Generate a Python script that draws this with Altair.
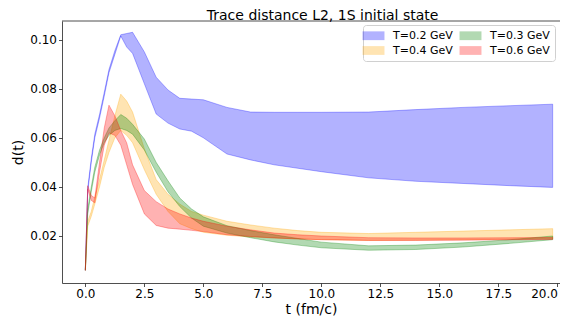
import altair as alt
import pandas as pd

t = [0, 0.1, 0.25, 0.4, 0.6, 0.8, 1.0, 1.25, 1.5, 1.75, 2.0, 2.5, 3.0, 3.5, 4.0,
     4.5, 5.0, 6.0, 7.0, 8.0, 9.0, 10.0, 12.0, 14.0, 16.0, 18.0, 19.8]

# T = 0.2 GeV
b_lo = [0.006, 0.038, 0.050, 0.060, 0.068, 0.077, 0.0865, 0.094, 0.1015, 0.097, 0.0944,
        0.082, 0.0697, 0.066, 0.0636, 0.0627, 0.0600, 0.0534, 0.0510, 0.0490, 0.0476,
        0.0462, 0.0437, 0.0423, 0.0414, 0.0405, 0.0398]
b_hi = [0.0065, 0.0395, 0.0515, 0.0615, 0.0695, 0.0785, 0.0878, 0.0955, 0.1020, 0.1025,
        0.1030, 0.0950, 0.0847, 0.0795, 0.0761, 0.0758, 0.0755, 0.0724, 0.0705, 0.0704,
        0.0704, 0.0704, 0.0705, 0.0715, 0.0724, 0.0731, 0.0737]
# T = 0.3 GeV
g_lo = [0.006, 0.029, 0.038, 0.046, 0.053, 0.058, 0.061, 0.063, 0.0638, 0.063, 0.0615,
        0.055, 0.046, 0.038, 0.032, 0.0273, 0.024, 0.0212, 0.0193, 0.0176, 0.0163,
        0.0152, 0.0142, 0.0145, 0.0155, 0.0170, 0.0185]
g_hi = [0.0065, 0.031, 0.040, 0.048, 0.055, 0.060, 0.064, 0.067, 0.0695, 0.068, 0.0655,
        0.0595, 0.050, 0.0425, 0.0355, 0.031, 0.0278, 0.0242, 0.0222, 0.0205, 0.0190,
        0.0175, 0.0160, 0.0163, 0.0172, 0.0185, 0.0200]
# T = 0.4 GeV
o_lo = [0.006, 0.024, 0.028, 0.033, 0.040, 0.048, 0.054, 0.060, 0.063, 0.061, 0.058,
        0.047, 0.037, 0.030, 0.025, 0.023, 0.0215, 0.0203, 0.0196, 0.0192, 0.0188,
        0.0185, 0.0182, 0.0183, 0.0185, 0.0187, 0.0189]
o_hi = [0.0065, 0.026, 0.030, 0.036, 0.043, 0.051, 0.059, 0.069, 0.0778, 0.075, 0.0705,
        0.0555, 0.043, 0.037, 0.033, 0.030, 0.0285, 0.026, 0.0245, 0.0232, 0.0222,
        0.0215, 0.0210, 0.0215, 0.0220, 0.0225, 0.0230]
# T = 0.6 GeV
r_lo = [0.006, 0.039, 0.0345, 0.0335, 0.046, 0.057, 0.062, 0.061, 0.057, 0.049, 0.041,
        0.029, 0.0243, 0.0232, 0.0228, 0.0223, 0.0218, 0.0205, 0.0198, 0.0192, 0.0188,
        0.0185, 0.0182, 0.0182, 0.0183, 0.0185, 0.0186]
r_hi = [0.0065, 0.0405, 0.0365, 0.0355, 0.050, 0.064, 0.0733, 0.069, 0.063, 0.058, 0.049,
        0.0385, 0.034, 0.031, 0.029, 0.0273, 0.026, 0.024, 0.0225, 0.0212, 0.0205,
        0.0200, 0.0193, 0.0192, 0.0192, 0.0193, 0.0194]

# plotting order (also the legend's column-major order)
series_names = ["T=0.2 GeV", "T=0.4 GeV", "T=0.3 GeV", "T=0.6 GeV"]
series_colors = ["#0000ff", "#ffa500", "#008000", "#ff0000"]

title_text = "Trace distance L2, 1S initial state"
x_ticks = [0, 2.5, 5, 7.5, 10, 12.5, 15, 17.5, 20]
y_ticks = [0.02, 0.04, 0.06, 0.08, 0.10]

FONT = "DejaVu Sans"
AXC = "#222222"
W, H = 498, 262

xs = alt.Scale(domain=[-0.99, 20.11], nice=False, zero=False)
ys = alt.Scale(domain=[0.00085, 0.1076], nice=False, zero=False)
cs = alt.Scale(domain=series_names, range=series_colors)

legend = alt.Legend(
    title=None, orient="none", legendX=301, legendY=4, columns=2, direction="vertical",
    symbolType="M-2.5,-1H2.5V1H-2.5Z", symbolSize=77, symbolOpacity=0.3,
    symbolStrokeWidth=0, labelFontSize=11, labelFont=FONT, labelColor="black",
    fillColor="white", strokeColor="#d0d0d0", padding=5, cornerRadius=3,
    columnPadding=6, rowPadding=3, labelOffset=14,
)


def band(name, lo, hi):
    df = pd.DataFrame({"t": t, "lo": lo, "hi": hi, "series": name})
    return alt.Chart(df).mark_area(
        fillOpacity=0.3, strokeOpacity=0.3, strokeWidth=1, clip=True
    ).encode(
        x=alt.X("t:Q", scale=xs, axis=alt.Axis(
            title="t (fm/c)", values=x_ticks, format=".1f", labelFlush=5,
            titleBaseline="alphabetic", titleY=30.5)),
        y=alt.Y("lo:Q", scale=ys, axis=alt.Axis(
            title="d(t)", values=y_ticks, format=".2f")),
        y2="hi:Q",
        color=alt.Color("series:N", scale=cs, legend=legend),
        stroke=alt.Stroke("series:N", scale=cs, legend=None),
    )


top_frame = alt.Chart(pd.DataFrame({"k": [0]})).mark_rule(
    color=AXC, strokeWidth=0.8
).encode(x=alt.value(0), x2=alt.value(W), y=alt.value(0))

title_mark = alt.Chart(pd.DataFrame({"label": [title_text]})).mark_text(
    font=FONT, fontSize=14, color="black", align="center", baseline="alphabetic"
).encode(text="label:N", x=alt.value(260.6), y=alt.value(-1.5))

chart = alt.layer(
    band("T=0.2 GeV", b_lo, b_hi),
    band("T=0.4 GeV", o_lo, o_hi),
    band("T=0.3 GeV", g_lo, g_hi),
    band("T=0.6 GeV", r_lo, r_hi),
    top_frame,
    title_mark,
).properties(
    width=W, height=H,
    autosize=alt.AutoSizeParams(type="none"),
    padding={"left": 54, "top": 13, "right": 0, "bottom": 34},
).configure_view(
    stroke=None
).configure_axis(
    domain=True, domainColor=AXC, domainWidth=0.8,
    grid=False, tickColor=AXC, tickWidth=0.8, tickSize=3.5,
    labelFont=FONT, labelFontSize=12, labelColor="black", labelPadding=2,
    titleFont=FONT, titleFontSize=14, titleFontWeight="normal", titleColor="black",
).configure_axisY(titlePadding=4)

chart.save("out.html", embed_options={"renderer": "svg", "actions": False})
